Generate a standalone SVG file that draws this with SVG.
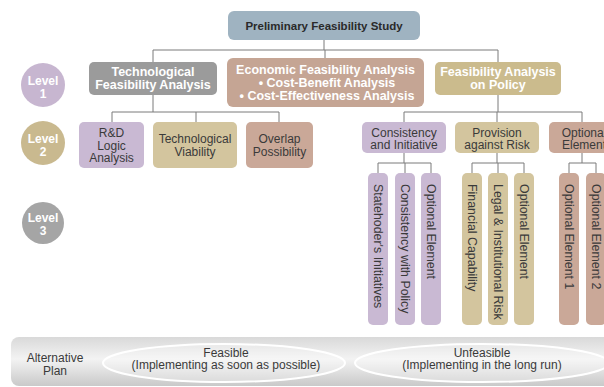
<svg xmlns="http://www.w3.org/2000/svg" width="604" height="387" viewBox="0 0 604 387">
<defs>
<linearGradient id="band" x1="0" y1="0" x2="0" y2="1">
<stop offset="0" stop-color="#d9d9d9"/>
<stop offset="0.45" stop-color="#f3f3f3"/>
<stop offset="1" stop-color="#c9c9c9"/>
</linearGradient>
</defs>
<style>
.b{font-family:"Liberation Sans",Arial,sans-serif;font-weight:bold;fill:#fff;font-size:12.5px;text-anchor:middle}
.n{font-family:"Liberation Sans",Arial,sans-serif;fill:#3a3a3a;font-size:12px;text-anchor:middle}
.v{font-family:"Liberation Sans",Arial,sans-serif;fill:#3a3a3a;font-size:12.4px}
.lv{font-family:"Liberation Sans",Arial,sans-serif;font-weight:bold;fill:#fff;font-size:12px;text-anchor:middle}
.pu{fill:#c9b9d3}
.ta{fill:#d3c59e}
.br{fill:#caa898}
.conn{stroke:#7a7a7a;stroke-width:1;fill:none}
</style>
<rect width="604" height="387" fill="#fff"/>

<g id="connectors" class="conn">
<path d="M324 40V50M153 50H498M153 50V62M325 50V58M498 50V62"/>
<path d="M153 95V112M112 112H279M112 112V122M196 112V122M279 112V122"/>
<path d="M498 95V112M404 112H582M404 112V122M497 112V122M582 112V122"/>
<path d="M404 153V163M378 163H431M378 163V173M405 163V173M431 163V173"/>
<path d="M497 153V163M472 163H524M472 163V173M498 163V173M524 163V173"/>
<path d="M582 153V163M569 163H596M569 163V173M596 163V173"/>
</g>

<g id="level1-badge"><circle cx="43" cy="85" r="22" fill="#c7b6d0"/><text class="lv" x="43" y="84.5">Level</text><text class="lv" x="43" y="97.5">1</text></g>
<g id="level2-badge"><circle cx="43" cy="143" r="22" fill="#c9b98f"/><text class="lv" x="43" y="142.5">Level</text><text class="lv" x="43" y="155.5">2</text></g>
<g id="level3-badge"><circle cx="43" cy="223" r="21" fill="#a5a5a5"/><text class="lv" x="43" y="221.5">Level</text><text class="lv" x="43" y="234.5">3</text></g>

<g id="top"><rect x="228" y="11" width="192" height="29" rx="6" fill="#9fb3c1"/><text class="b" x="324" y="30" style="fill:#2a2a2a;font-size:11.5px">Preliminary Feasibility Study</text></g>

<g id="tech"><rect x="89" y="62" width="128" height="33" rx="5" fill="#9b9b9b"/><text class="b" x="153" y="76">Technological</text><text class="b" x="153" y="89">Feasibility Analysis</text></g>
<g id="econ"><rect x="227" y="58" width="197" height="49" rx="6" fill="#c5a594"/><text class="b" x="325.5" y="74">Economic Feasibility Analysis</text><text class="b" x="327" y="87">• Cost-Benefit Analysis</text><text class="b" x="327" y="100">• Cost-Effectiveness Analysis</text></g>
<g id="policy"><rect x="435" y="62" width="126" height="33" rx="5" fill="#cbbb8d"/><text class="b" x="498" y="76">Feasibility Analysis</text><text class="b" x="498" y="89">on Policy</text></g>

<g id="rd"><rect class="pu" x="79" y="122" width="65" height="46" rx="5"/><text class="n" x="111.5" y="137">R&amp;D</text><text class="n" x="111.5" y="149.5">Logic</text><text class="n" x="111.5" y="162">Analysis</text></g>
<g id="viability"><rect class="ta" x="153" y="122" width="84" height="46" rx="5"/><text class="n" x="195" y="143">Technological</text><text class="n" x="195" y="156">Viability</text></g>
<g id="overlap"><rect class="br" x="246" y="122" width="67" height="46" rx="5"/><text class="n" x="279.5" y="143">Overlap</text><text class="n" x="279.5" y="156">Possibility</text></g>

<g id="consistency"><rect class="pu" x="362" y="122" width="84" height="31" rx="5"/><text class="n" x="404" y="137">Consistency</text><text class="n" x="404" y="149">and Initiative</text></g>
<g id="provision"><rect class="ta" x="455" y="122" width="84" height="31" rx="5"/><text class="n" x="497" y="137">Provision</text><text class="n" x="497" y="149">against Risk</text></g>
<g id="optional"><rect class="br" x="549" y="122" width="70" height="31" rx="5"/><text class="n" x="584" y="137">Optional</text><text class="n" x="584" y="149">Element</text></g>

<g id="c1"><rect class="pu" x="368" y="173" width="20" height="152" rx="5"/><text class="v" transform="translate(378,184) rotate(90)" dy="0.35em">Statehoder's Initiatives</text></g>
<g id="c2"><rect class="pu" x="395" y="173" width="20" height="152" rx="5"/><text class="v" transform="translate(405,184) rotate(90)" dy="0.35em">Consistency with Policy</text></g>
<g id="c3"><rect class="pu" x="421" y="173" width="20" height="152" rx="5"/><text class="v" transform="translate(431,184) rotate(90)" dy="0.35em">Optional Element</text></g>
<g id="p1"><rect class="ta" x="462" y="173" width="20" height="152" rx="5"/><text class="v" transform="translate(472,184) rotate(90)" dy="0.35em">Financial Capability</text></g>
<g id="p2"><rect class="ta" x="488" y="173" width="20" height="152" rx="5"/><text class="v" transform="translate(498,184) rotate(90)" dy="0.35em">Legal &amp; Institutional Risk</text></g>
<g id="p3"><rect class="ta" x="514" y="173" width="20" height="152" rx="5"/><text class="v" transform="translate(524,184) rotate(90)" dy="0.35em">Optional Element</text></g>
<g id="o1"><rect class="br" x="559" y="173" width="20" height="152" rx="5"/><text class="v" transform="translate(569,184) rotate(90)" dy="0.35em">Optional Element 1</text></g>
<g id="o2"><rect class="br" x="586" y="173" width="20" height="152" rx="5"/><text class="v" transform="translate(596,184) rotate(90)" dy="0.35em">Optional Element 2</text></g>

<g id="alternative">
<rect x="11" y="337" width="610" height="49" rx="8" fill="url(#band)"/>
<text class="n" x="55" y="362">Alternative</text><text class="n" x="55" y="375">Plan</text>
<ellipse cx="224" cy="363" rx="121" ry="19" fill="#fff" fill-opacity="0.25" stroke="#fff" stroke-width="2"/>
<text class="n" x="226" y="357">Feasible</text><text class="n" x="226" y="369">(Implementing as soon as possible)</text>
<ellipse cx="482" cy="363" rx="127" ry="19" fill="#fff" fill-opacity="0.25" stroke="#fff" stroke-width="2"/>
<text class="n" x="482" y="357">Unfeasible</text><text class="n" x="482" y="369">(Implementing in the long run)</text>
</g>
</svg>
